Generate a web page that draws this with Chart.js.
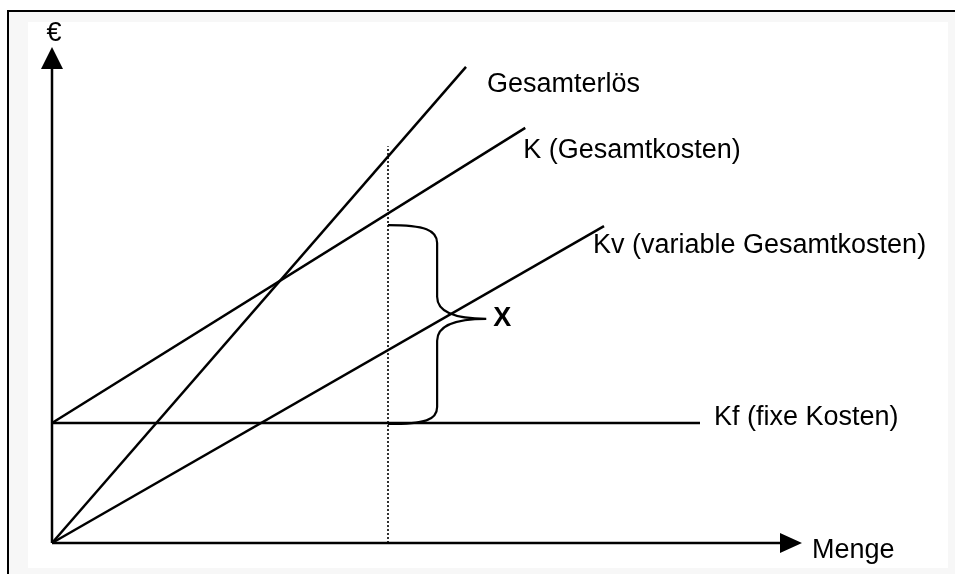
<!DOCTYPE html>
<html>
<head>
<meta charset="utf-8">
<script src="https://cdn.jsdelivr.net/npm/chart.js@4"></script>
<style>
  html, body { margin: 0; padding: 0; background: #fff; width: 955px; height: 574px; overflow: hidden; }
  .frame { position: absolute; left: 7px; top: 10px; right: 0; bottom: 0; border-top: 2px solid #000; border-left: 2px solid #000; background: #f7f7f7; }
  .paper { position: absolute; left: 28px; top: 22px; width: 920px; height: 546px; background: #fff; }
  #chart { position: absolute; left: 0; top: 0; }
</style>
</head>
<body>
<div class="frame"></div>
<div class="paper"></div>
<canvas id="chart" width="955" height="574"></canvas>
<script>
// Werte in Diagrammeinheiten (Menge 0..100, Euro 0..100)
const fixKosten = 24.2;
const erloesX = [0, 55.2];
const erloesY = [0, 96.0];
const gesamtKX = [0, 63.1];
const gesamtKY = [fixKosten, 83.7];
const varKX = [0, 73.6];
const varKY = [0, 63.9];
const fixKX = [0, 86.4];
const fixKY = [fixKosten, fixKosten];
const mengeX = [44.8, 44.8];
const mengeY = [0, 80.0];
// Klammer X: Abstand zwischen Kf und K an der Menge
const braceY = [24.0, 64.1];
const braceTip = [57.9, 45.2];

const seriesNames = ['Gesamterlös', 'K (Gesamtkosten)', 'Kv (variable Gesamtkosten)', 'Kf (fixe Kosten)'];
const axisLabels = ['€', 'Menge'];
const braceLabel = 'X';

const pts = (xs, ys) => xs.map((x, i) => ({ x, y: ys[i] }));
const FONT = '"Liberation Sans", Arial, sans-serif';

const line = (data, extra) => Object.assign({ data, borderColor: '#000', borderWidth: 2.5, pointRadius: 0, tension: 0, clip: false, fill: false }, extra || {});

// Achsen mit Pfeilspitzen, Klammer und Beschriftungen
const drawing = {
  id: 'drawing',
  beforeDatasetsDraw(chart) {
    const { ctx, scales: { x, y } } = chart;
    const x0 = x.getPixelForValue(0), y0 = y.getPixelForValue(0);
    const xEnd = x.getPixelForValue(100), yEnd = y.getPixelForValue(100);
    ctx.save();
    ctx.strokeStyle = '#000'; ctx.fillStyle = '#000'; ctx.lineWidth = 2.5;
    ctx.beginPath();
    ctx.moveTo(x0, y0); ctx.lineTo(x0, yEnd + 20);
    ctx.moveTo(x0, y0); ctx.lineTo(xEnd - 20, y0);
    ctx.stroke();
    ctx.beginPath();
    ctx.moveTo(x0, yEnd); ctx.lineTo(x0 - 11, yEnd + 22); ctx.lineTo(x0 + 11, yEnd + 22); ctx.closePath();
    ctx.moveTo(xEnd, y0); ctx.lineTo(xEnd - 22, y0 - 10); ctx.lineTo(xEnd - 22, y0 + 10); ctx.closePath();
    ctx.fill();
    ctx.restore();
  },
  afterDatasetsDraw(chart) {
    const { ctx, scales: { x, y } } = chart;
    ctx.save();
    ctx.strokeStyle = '#000'; ctx.fillStyle = '#000';
    // Klammer
    const xs = x.getPixelForValue(mengeX[0]);
    const xt = x.getPixelForValue(braceTip[0]);
    const yt = y.getPixelForValue(braceTip[1]);
    const yTop = y.getPixelForValue(braceY[1]);
    const yBot = y.getPixelForValue(braceY[0]);
    const xm = xs + (xt - xs) * 0.5;
    ctx.lineWidth = 2.2;
    ctx.beginPath();
    ctx.moveTo(xs, yTop);
    ctx.bezierCurveTo(xm - 12, yTop, xm, yTop + 5, xm, yTop + 18);
    ctx.lineTo(xm, yt - 22);
    ctx.bezierCurveTo(xm, yt - 6, xm + 18, yt, xt, yt);
    ctx.bezierCurveTo(xm + 18, yt, xm, yt + 6, xm, yt + 22);
    ctx.lineTo(xm, yBot - 17);
    ctx.bezierCurveTo(xm, yBot - 4, xm - 12, yBot, xs, yBot);
    ctx.stroke();

    // Texte
    ctx.textBaseline = 'alphabetic';
    ctx.textAlign = 'left';
    ctx.font = '27px ' + FONT;
    const ends = [
      [erloesX[1], erloesY[1], 21, 25],
      [gesamtKX[1], gesamtKY[1], -2, 30],
      [varKX[1], varKY[1], -11, 27],
      [fixKX[1], fixKY[1], 14, 2]
    ];
    ends.forEach(([vx, vy, dx, dy], i) => {
      ctx.fillText(seriesNames[i], x.getPixelForValue(vx) + dx, y.getPixelForValue(vy) + dy);
    });
    const x0 = x.getPixelForValue(0), y0 = y.getPixelForValue(0);
    ctx.textAlign = 'center';
    ctx.fillText(axisLabels[0], x0 + 2, y.getPixelForValue(100) - 6);
    ctx.textAlign = 'left';
    ctx.fillText(axisLabels[1], x.getPixelForValue(100) + 10, y0 + 15);
    ctx.font = 'bold 27px ' + FONT;
    ctx.fillText(braceLabel, xt + 7, yt + 7);
    ctx.restore();
  }
};

new Chart(document.getElementById('chart'), {
  type: 'line',
  data: {
    datasets: [
      line(pts(erloesX, erloesY)),
      line(pts(gesamtKX, gesamtKY)),
      line(pts(varKX, varKY)),
      line(pts(fixKX, fixKY)),
      line(pts(mengeX, mengeY), { borderWidth: 1.6, borderDash: [2, 2], borderColor: '#000' })
    ]
  },
  options: {
    responsive: false,
    devicePixelRatio: 1,
    animation: false,
    layout: { padding: { left: 52, top: 47, right: 153, bottom: 31 } },
    plugins: { legend: { display: false }, tooltip: { enabled: false } },
    scales: {
      x: { type: 'linear', min: 0, max: 100, display: false },
      y: { type: 'linear', min: 0, max: 100, display: false }
    }
  },
  plugins: [drawing]
});
</script>
</body>
</html>
